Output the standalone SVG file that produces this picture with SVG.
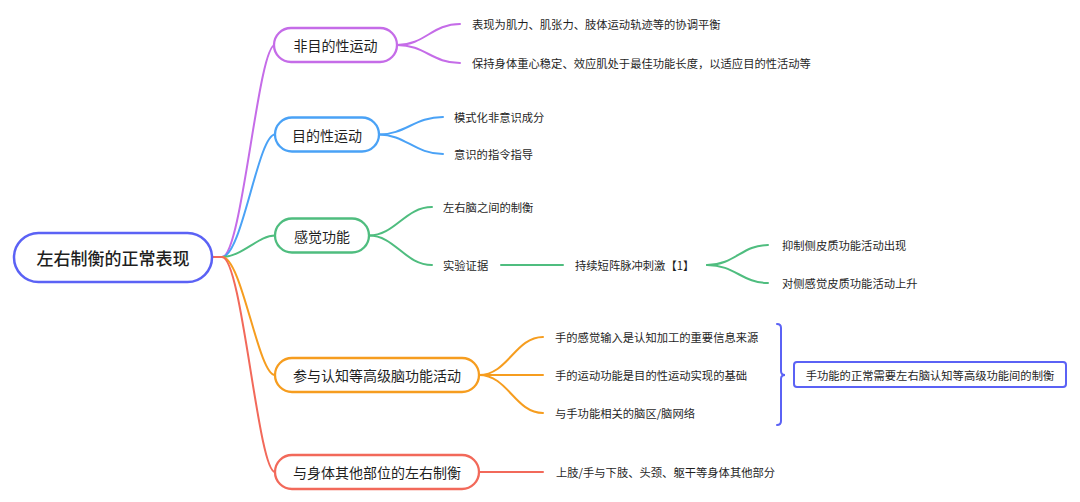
<svg xmlns="http://www.w3.org/2000/svg" width="1080" height="502" viewBox="0 0 1080 502">
<style>
text{font-family:"Noto Sans CJK SC","Noto Sans",sans-serif;fill:#1f1f1f;dominant-baseline:central}
.leaf{font-size:11.3px}
.node{font-size:14px}
.root{font-size:17px;font-weight:500}
.c{fill:none;stroke-width:2;stroke-linecap:round}
.n{fill:#fff;stroke-width:2.3}
.pu{stroke:#c56ce8}.bl{stroke:#4aa2f6}.gr{stroke:#4fbd7f}.or{stroke:#f69d1f}.rd{stroke:#f2695a}.bv{stroke:#5b62f5}
</style>
<rect width="1080" height="502" fill="#fff"/>
<g id="connectors">
<path class="c pu" d="M213,257 L222,257 C242,257 258,45 275,45"/>
<path class="c bl" d="M213,257 L222,257 C242,257 258,134.5 275,134.5"/>
<path class="c gr" d="M213,257 L222,257 C242,257 258,235.5 275,235.5"/>
<path class="c or" d="M213,257 L222,257 C242,257 258,375 275,375"/>
<path class="c rd" d="M213,257 L222,257 C242,257 258,472 275,472"/>
<path class="c pu" d="M397,45 C425,45 432,24 460,24"/>
<path class="c pu" d="M397,45 C425,45 432,63 460,63"/>
<path class="c bl" d="M379,134.5 C405,134.5 415,117 443,117"/>
<path class="c bl" d="M379,134.5 C405,134.5 415,154 443,154"/>
<path class="c gr" d="M369,235.5 C395,235.5 405,207 432,207"/>
<path class="c gr" d="M369,235.5 C395,235.5 405,265 432,265"/>
<path class="c gr" d="M501,265 L563,265"/>
<path class="c gr" d="M707,265 C735,265 742,245 768,245"/>
<path class="c gr" d="M707,265 C735,265 742,283 768,283"/>
<path class="c or" d="M479,375 C508,375 515,337 543,337"/>
<path class="c or" d="M479,375 L543,375"/>
<path class="c or" d="M479,375 C508,375 515,413 543,413"/>
<path class="c rd" d="M479,472 L543,472"/>
<path class="c bv" d="M777,324 Q781,324 781,328 L781,371 Q781,375 785,375 Q781,375 781,379 L781,421 Q781,425 777,425"/>
</g>
<g id="root">
<rect x="14" y="233" width="198" height="49" rx="24.5" fill="#fff" stroke="#5b62f5" stroke-width="2.5"/>
<text class="root" x="113" y="257.5" text-anchor="middle">左右制衡的正常表现</text>
</g>
<g id="n1">
<rect class="n pu" x="274" y="28" width="123" height="34" rx="17"/>
<text class="node" x="335.5" y="45" text-anchor="middle">非目的性运动</text>
</g>
<g id="n2">
<rect class="n bl" x="275" y="117.5" width="104" height="34" rx="17"/>
<text class="node" x="327" y="134.5" text-anchor="middle">目的性运动</text>
</g>
<g id="n3">
<rect class="n gr" x="275" y="218.5" width="94" height="34" rx="17"/>
<text class="node" x="322" y="235.5" text-anchor="middle">感觉功能</text>
</g>
<g id="n4">
<rect class="n or" x="275" y="358" width="204" height="34" rx="17"/>
<text class="node" x="377" y="375" text-anchor="middle">参与认知等高级脑功能活动</text>
</g>
<g id="n5">
<rect class="n rd" x="275" y="455" width="204" height="34" rx="17"/>
<text class="node" x="377" y="472" text-anchor="middle">与身体其他部位的左右制衡</text>
</g>
<g id="l1a"><text class="leaf" x="472" y="24">表现为肌力、肌张力、肢体运动轨迹等的协调平衡</text></g>
<g id="l1b"><text class="leaf" x="472" y="63">保持身体重心稳定、效应肌处于最佳功能长度，以适应目的性活动等</text></g>
<g id="l2a"><text class="leaf" x="454" y="117">模式化非意识成分</text></g>
<g id="l2b"><text class="leaf" x="454" y="154">意识的指令指导</text></g>
<g id="l3a"><text class="leaf" x="443" y="207">左右脑之间的制衡</text></g>
<g id="l3b"><text class="leaf" x="443" y="265">实验证据</text></g>
<g id="l3c"><text class="leaf" x="575" y="265">持续短阵脉冲刺激【1】</text></g>
<g id="l3d"><text class="leaf" x="782" y="245">抑制侧皮质功能活动出现</text></g>
<g id="l3e"><text class="leaf" x="782" y="283">对侧感觉皮质功能活动上升</text></g>
<g id="l4a"><text class="leaf" x="555" y="337">手的感觉输入是认知加工的重要信息来源</text></g>
<g id="l4b"><text class="leaf" x="555" y="375">手的运动功能是目的性运动实现的基础</text></g>
<g id="l4c"><text class="leaf" x="555" y="413">与手功能相关的脑区/脑网络</text></g>
<g id="l5"><text class="leaf" x="556" y="472">上肢/手与下肢、头颈、躯干等身体其他部分</text></g>
<g id="summary">
<rect x="794" y="362" width="272" height="25" rx="3" fill="#fff" stroke="#5b62f5" stroke-width="2"/>
<text class="leaf" x="930" y="374.5" text-anchor="middle">手功能的正常需要左右脑认知等高级功能间的制衡</text>
</g>
</svg>
